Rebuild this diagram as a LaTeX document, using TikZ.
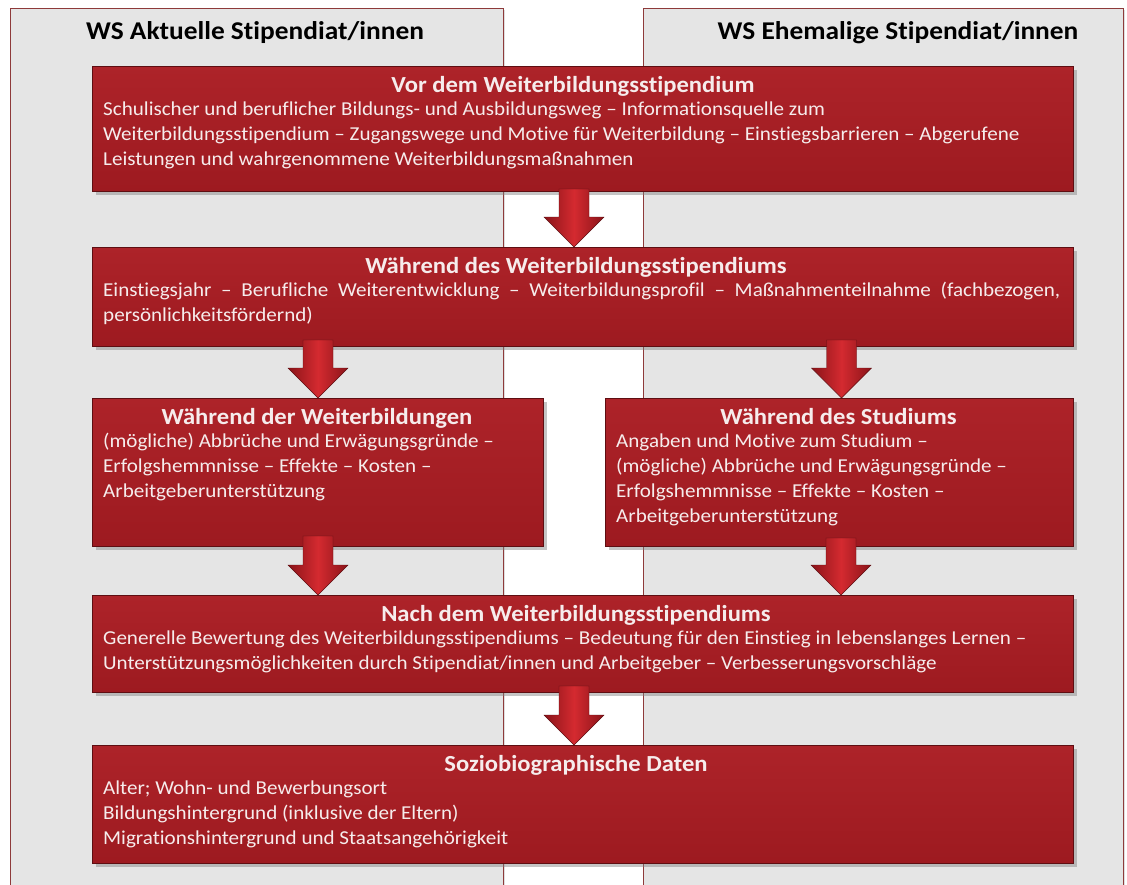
\documentclass[tikz,border=0pt]{standalone}
\usepackage{fontspec}
\setmainfont{Carlito}[Ligatures=NoCommon, FakeStretch=1.07]
\usetikzlibrary{calc,shadows}
\definecolor{boxtop}{HTML}{AD2329}
\definecolor{boxbot}{HTML}{9D1A20}
\definecolor{boxdark}{HTML}{5E0E12}
\definecolor{panelgray}{HTML}{E5E5E5}
\definecolor{panelline}{HTML}{8E3A3A}
\definecolor{txt}{HTML}{F6ECEC}
\definecolor{arrowlight}{HTML}{D42A30}
\definecolor{arrowdark}{HTML}{8A1419}
\tikzset{
  panel/.style={draw=panelline, line width=0.9pt, fill=panelgray,
    drop shadow={shadow xshift=2pt, shadow yshift=-2pt, opacity=0.25}},
  redbox/.style={draw=boxdark, line width=1pt, top color=boxtop, bottom color=boxbot,
    anchor=north west, inner sep=0pt,
    drop shadow={shadow xshift=3pt, shadow yshift=-3pt, opacity=0.45}},
  boxtitle/.style={text=txt, font=\bfseries\fontsize{23}{27}\selectfont, anchor=base, inner sep=0pt},
  boxbody/.style={text=txt, font=\fontsize{19.7}{25}\selectfont, anchor=north west, inner sep=0pt, align=left},
  header/.style={font=\bfseries\fontsize{25.6}{30}\selectfont, inner sep=0pt, anchor=base},
  blockarrow/.style={left color=arrowdark, right color=arrowdark, middle color=arrowlight,
    draw=boxdark, line width=0.4pt},
}
\newcommand\blkarrow[2]{%
  \path[blockarrow] let \p1=#1, \p2=#2 in
    (\x2-15pt,\y1) -- (\x2+15pt,\y1) -- (\x2+15pt,\y2+30pt) -- (\x2+30pt,\y2+30pt)
    -- (\x2,\y2) -- (\x2-30pt,\y2+30pt) -- (\x2-15pt,\y2+30pt) -- cycle;}
\begin{document}
\begin{tikzpicture}[x=1pt,y=-1pt]
\useasboundingbox (0,0) rectangle (1127,884);
\clip (0,0) rectangle (1127,884);
\fill[white] (0,0) rectangle (1127,884);
% panels
\path[panel] (10,8) rectangle (503,900);
\path[panel] (643,8) rectangle (1123,900);
\node[header] (h1) at (255,39) {WS Aktuelle Stipendiat/innen};
\node[header] (h2) at (898,39) {WS Ehemalige Stipendiat/innen};
% boxes
\node[redbox, minimum width=981pt, minimum height=125pt] (b1) at (92,66) {};
\node[redbox, minimum width=981pt, minimum height=99pt] (b2) at (92,247) {};
\node[redbox, minimum width=451pt, minimum height=148pt] (b3l) at (92,398) {};
\node[redbox, minimum width=468pt, minimum height=148pt] (b3r) at (605,398) {};
\node[redbox, minimum width=981pt, minimum height=97pt] (b4) at (92,595) {};
\node[redbox, minimum width=981pt, minimum height=118pt] (b5) at (92,745) {};
% titles
\node[boxtitle] (t1) at ($(b1.north)+(-10,26)$) {Vor dem Weiterbildungsstipendium};
\node[boxtitle] (t2) at ($(b2.north)+(-7,26)$) {Während des Weiterbildungsstipendiums};
\node[boxtitle] (t3l) at ($(b3l.north)+(-1,26)$) {Während der Weiterbildungen};
\node[boxtitle] (t3r) at ($(b3r.north)+(-1,26)$) {Während des Studiums};
\node[boxtitle] (t4) at ($(b4.north)+(-7,26)$) {Nach dem Weiterbildungsstipendiums};
\node[boxtitle] (t5) at ($(b5.north)+(-7,26)$) {Soziobiographische Daten};
% bodies
\node[boxbody] (d1) at ($(b1.north west)+(11,34)$) {\rule{0pt}{15pt}Schulischer und beruflicher Bildungs- und Ausbildungsweg – Informationsquelle zum\\
Weiterbildungsstipendium – Zugangswege und Motive für Weiterbildung – Einstiegsbarrieren – Abgerufene\\
Leistungen und wahrgenommene Weiterbildungsmaßnahmen};
\node[boxbody] (d2) at ($(b2.north west)+(11,34)$) {\rule{0pt}{15pt}\makebox[957pt][s]{Einstiegsjahr – Berufliche Weiterentwicklung – Weiterbildungsprofil – Maßnahmenteilnahme (fachbezogen,}\\
persönlichkeitsfördernd)};
\node[boxbody] (d3l) at ($(b3l.north west)+(11,34)$) {\rule{0pt}{15pt}(mögliche) Abbrüche und Erwägungsgründe –\\
Erfolgshemmnisse – Effekte – Kosten –\\
Arbeitgeberunterstützung};
\node[boxbody] (d3r) at ($(b3r.north west)+(11,34)$) {\rule{0pt}{15pt}Angaben und Motive zum Studium –\\
(mögliche) Abbrüche und Erwägungsgründe –\\
Erfolgshemmnisse – Effekte – Kosten –\\
Arbeitgeberunterstützung};
\node[boxbody] (d4) at ($(b4.north west)+(11,34)$) {\rule{0pt}{15pt}Generelle Bewertung des Weiterbildungsstipendiums – Bedeutung für den Einstieg in lebenslanges Lernen –\\
Unterstützungsmöglichkeiten durch Stipendiat/innen und Arbeitgeber – Verbesserungsvorschläge};
\node[boxbody] (d5) at ($(b5.north west)+(11,34)$) {\rule{0pt}{15pt}Alter; Wohn- und Bewerbungsort\\
Bildungshintergrund (inklusive der Eltern)\\
Migrationshintergrund und Staatsangehörigkeit};
% arrows
\blkarrow{($(b1.south)+(-9,-3)$)}{($(b2.north)+(-9,0)$)}
\blkarrow{($(b2.south)+(-265,-7)$)}{(b3l.north)}
\blkarrow{($(b2.south)+(258,-7)$)}{($(b3r.north)+(2,0)$)}
\blkarrow{($(b3l.south)+(0,-11)$)}{($(b4.north)+(-265,0)$)}
\blkarrow{($(b3r.south)+(2,-9)$)}{($(b4.north)+(258,0)$)}
\blkarrow{($(b4.south)+(-9,-7)$)}{($(b5.north)+(-9,0)$)}
\end{tikzpicture}
\end{document}
